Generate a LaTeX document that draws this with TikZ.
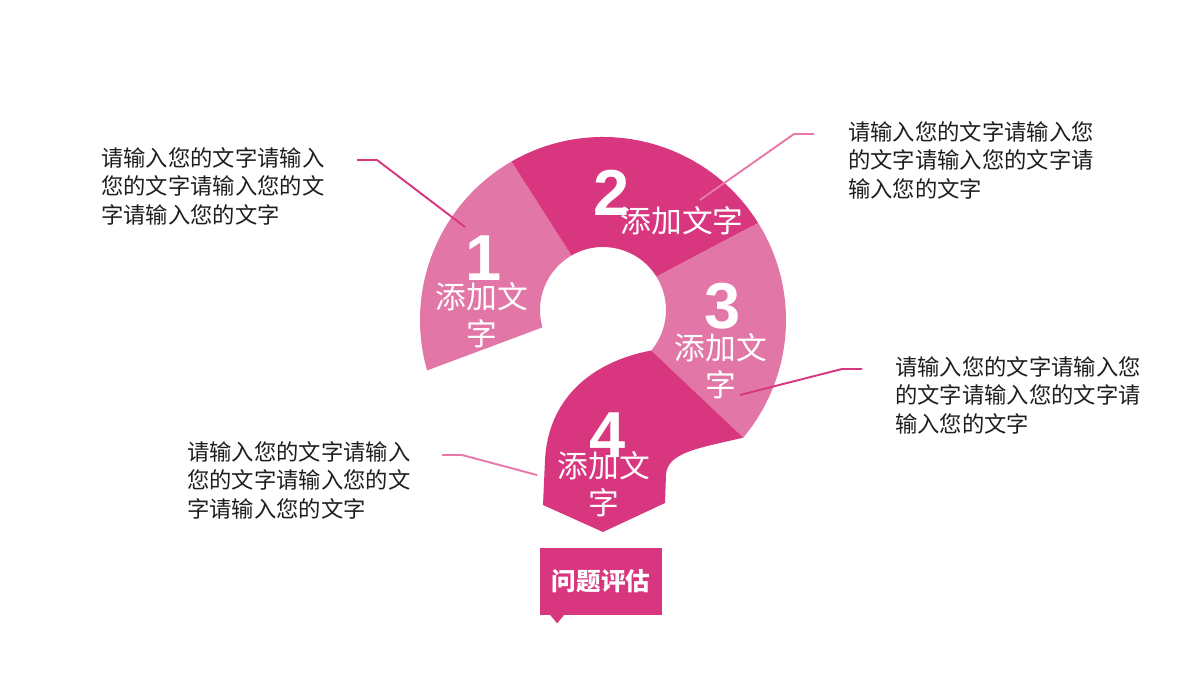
\documentclass[tikz,border=0pt]{standalone}
\usepackage{fontspec}
\usetikzlibrary{calc}
\usetikzlibrary{positioning}
\newfontfamily\cjk{Noto Sans CJK SC}
\newfontfamily\numfont{Liberation Sans}
\definecolor{bg1}{RGB}{226,118,166}
\definecolor{bg2}{RGB}{216,54,126}
\definecolor{l1}{RGB}{216,54,126}
\definecolor{l2}{RGB}{230,120,170}
\definecolor{tx}{RGB}{30,30,30}

\begin{document}
\begin{tikzpicture}[
    x=0.02cm, y=-0.02cm,
    a/.style={
        line width=1.1pt,
        color=l1,
    },
    l/.style={
        line width=1.1pt,
        color=l2,
    },
    pl/.style={fill=bg1},
    pd/.style={fill=bg2},
    m/.style={
        text=white, inner sep=0,
        font=\numfont\bfseries\fontsize{37}{37}\selectfont
    },
    s/.style={
        text=white, inner sep=0, align=center,
        font=\cjk\fontsize{17.5}{21}\selectfont
    },
    e/.style={
        text=tx, inner sep=0, align=left, anchor=north west,
        font=\cjk\fontsize{12.7}{16.2}\selectfont
    },
    k/.style={
        fill=bg2, text=white, inner sep=0,
        minimum width=2.44cm, minimum height=1.34cm,
        font=\cjk\bfseries\fontsize{14}{14}\selectfont
    }
]
    \useasboundingbox (0,0) rectangle (1200,675);

    \coordinate (o) at (603,320);
    \coordinate (h) at (603,310);

    % question mark
    \fill [pl] ([shift={(164:183)}]o) arc [start angle=164, end angle=240, radius=183]
        -- ([shift={(240:63)}]h) arc [start angle=240, end angle=164, radius=63] -- cycle;
    \fill [pd] ([shift={(240:183)}]o) arc [start angle=240, end angle=328, radius=183]
        -- ([shift={(328:63)}]h) arc [start angle=328, end angle=240, radius=63] -- cycle;
    \fill [pl] ([shift={(328:183)}]o) arc [start angle=328, end angle=400, radius=183]
        -- ([shift={(40:63)}]h) arc [start angle=40, end angle=-32, radius=63] -- cycle;
    \fill [pd] ([shift={(40:63)}]h) -- ([shift={(40:183)}]o)
        .. controls (700,448) and (667,452) .. (666,475)
        -- (665,503) -- (603,532) -- (543,505) -- (545,460)
        .. controls (548,400) and (590,362) .. ([shift={(40:63)}]h) -- cycle;

    \coordinate (c1) at (465,227);
    \coordinate (k1) at (377,160);
    \coordinate (e1) at (357,160);
    \coordinate (c2) at (700,200);
    \coordinate (k2) at (794,134);
    \coordinate (e2) at (814,134);
    \coordinate (c3) at (740,395);
    \coordinate (k3) at (842,369);
    \coordinate (e3) at (862,369);
    \coordinate (c4) at (537,475);
    \coordinate (k4) at (462,455);
    \coordinate (e4) at (442,455);

    \draw (c1) -- (k1) -- (e1) [a];
    \draw (c2) -- (k2) -- (e2) [l];
    \draw (c3) -- (k3) -- (e3) [a];
    \draw (c4) -- (k4) -- (e4) [l];

    \node [m] (n1) at (484,258) {1};
    \node [m] (n2) at (612,193) {2};
    \node [m] (n3) at (723,306) {3};
    \node [m] (n4) at (608,435) {4};

    \node [s] (s1) at (482,315) {添加文\\字};
    \node [s] (s2) at (682,221) {添加文字};
    \node [s] (s3) at (721,366) {添加文\\字};
    \node [s] (s4) at (604,484) {添加文\\字};

    \node [e] (t1) at (101,147) {请输入您的文字请输入\\您的文字请输入您的文\\字请输入您的文字};
    \node [e] (t2) at (848,121) {请输入您的文字请输入您\\的文字请输入您的文字请\\输入您的文字};
    \node [e] (t3) at (895,356) {请输入您的文字请输入您\\的文字请输入您的文字请\\输入您的文字};
    \node [e] (t4) at (187,441) {请输入您的文字请输入\\您的文字请输入您的文\\字请输入您的文字};

    \node [k] (q) at (601,581.5) {问题评估};
    \fill [pd] ($(q.south west)+(10,-1)$) -- ++(15,0) -- ++(-7.5,9) -- cycle;
\end{tikzpicture}
\end{document}
